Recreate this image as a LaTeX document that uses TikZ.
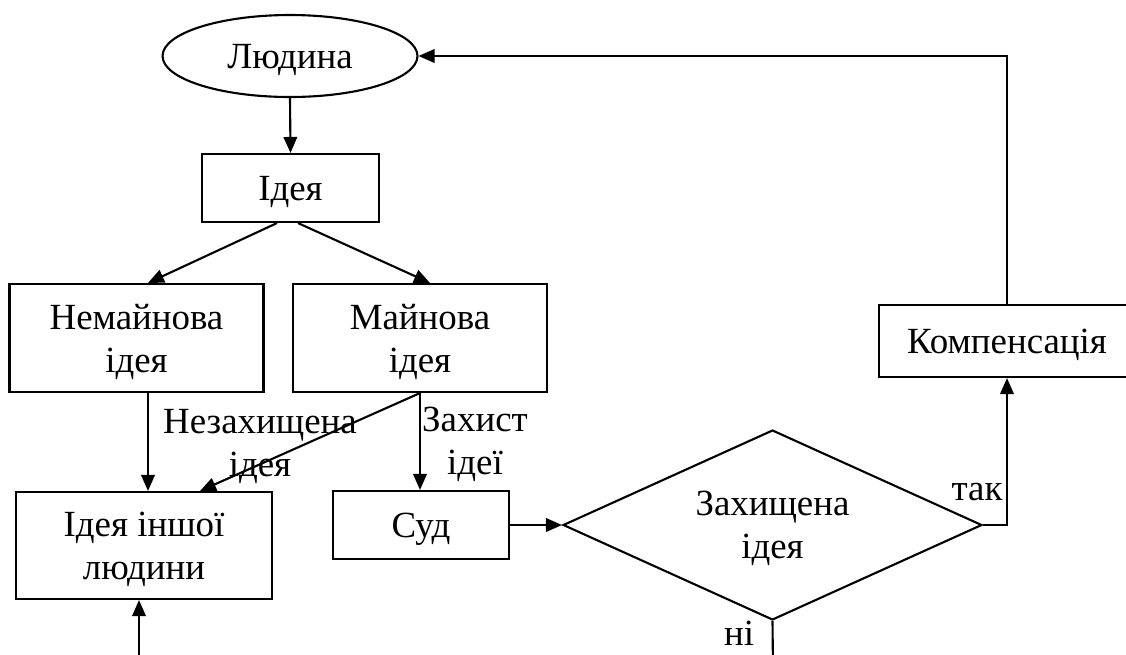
\documentclass[tikz,border=0pt]{standalone}
\usepackage{fontspec}
\setmainfont{Liberation Serif}
\usetikzlibrary{arrows.meta,shapes.geometric}
\begin{document}
\begin{tikzpicture}[x=0.02cm, y=-0.02cm, line width=1.2pt, line join=miter,
    font=\fontsize{21}{24.5}\selectfont,
    block/.style={draw, rectangle, align=center, inner sep=0pt, text depth=0pt},
    arr/.style={-{Triangle[length=0.32cm, width=0.27cm]}}]
  \useasboundingbox (0,0) rectangle (1126,654);
  % nodes
  \node[draw, ellipse, minimum width=5.1cm, minimum height=1.64cm, inner sep=0pt, text depth=0pt] (person) at (290,56) {Людина};
  \node[block, minimum width=3.54cm, minimum height=1.36cm] (idea) at (290.5,188) {Ідея};
  \node[block, minimum width=5.08cm, minimum height=2.16cm] (nonprop) at (136.5,338) {Немайнова\\ідея};
  \node[block, minimum width=5.08cm, minimum height=2.16cm] (prop) at (420,338) {Майнова\\ідея};
  \node[block, minimum width=5.12cm, minimum height=2.14cm] (other) at (144,545.5) {Ідея іншої\\людини};
  \node[block, minimum width=3.52cm, minimum height=1.36cm] (court) at (421,525) {Суд};
  \node[draw, diamond, aspect=2.2, minimum width=8.38cm, minimum height=3.8cm, inner sep=0pt, align=center, text depth=0pt] (protected) at (772.5,525) {Захищена\\ідея};
  \node[block, minimum width=5.12cm, minimum height=1.44cm] (comp) at (1007,341) {Компенсація};
  \coordinate (noend) at (773,670);
  \coordinate (back) at (139,670);
  % connectors
  \draw[arr] (person.south) -- (idea.north);
  \draw[arr] ([xshift=-0.27cm]idea.south) -- ([xshift=0.23cm]nonprop.north);
  \draw[arr] ([xshift=0.15cm]idea.south) -- ([xshift=0.2cm]prop.north);
  \draw[arr] ([xshift=0.23cm]nonprop.south) -- ([xshift=0.23cm]nonprop.south |- other.north);
  \draw[arr] (prop.south) -- ([xshift=1.12cm]other.north);
  \draw[arr] (prop.south) -- (prop.south |- court.north);
  \draw[arr] (court.east) -- (protected.west);
  \draw[arr] (protected.east) -| (comp.south);
  \draw[arr] (comp.north) |- (person.east);
  \draw (protected.south) -- (noend);
  \draw[arr] (back) -- (back |- other.south);
  % labels
  \node[align=center] (nolabel) at (260,446) {Незахищена\\ідея};
  \node[align=center] (deflabel) at (475,444) {Захист\\ідеї};
  \node (yes) at (977,492) {так};
  \node (no) at (739,633) {ні};
\end{tikzpicture}
\end{document}
